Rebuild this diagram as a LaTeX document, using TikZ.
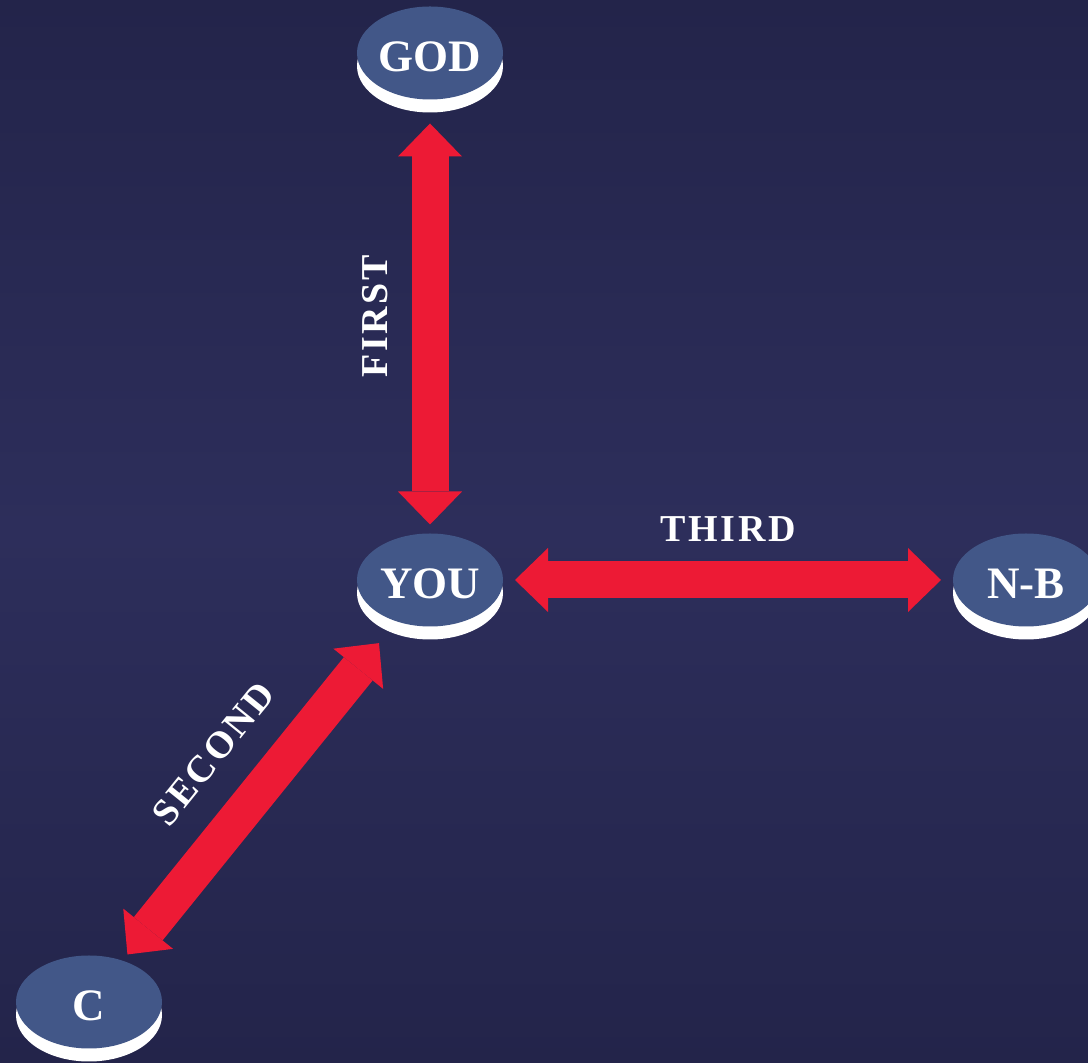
\documentclass[tikz,border=0pt]{standalone}
\usepackage{fontspec}
\setmainfont{Liberation Serif}
\newfontfamily\labelfont[LetterSpace=7]{Liberation Serif}
\usetikzlibrary{arrows.meta,positioning,shapes.geometric,shadows}

\definecolor{bgedge}{HTML}{23244A}
\definecolor{bgmid}{HTML}{2D2E5B}
\definecolor{discblue}{HTML}{425788}
\definecolor{linkred}{HTML}{ED1A35}

\begin{document}
\begin{tikzpicture}[x=1pt,y=1pt,
    >={Triangle[length=33pt,width=64pt,line width=0pt]},
    disc/.style={ellipse,on grid,fill=discblue,minimum width=146pt,minimum height=93pt,
      inner sep=0pt,outer sep=0pt,general shadow={fill=white,shadow yshift=-13pt},
      text height=38pt,text depth=0pt,
      text=white,font=\bfseries\fontsize{45}{45}\selectfont},
    link/.style={color=linkred,line width=37pt,<->},
    linklabel/.style={text=white,inner sep=0pt,font=\labelfont\bfseries\fontsize{38}{38}\selectfont}]
      \clip (0,0) rectangle (1088,1063);
      \shade[top color=bgedge,bottom color=bgedge,middle color=bgmid] (0,0) rectangle (1088,1063);

      \node[disc] (you) at (430,483) {YOU};
      \node[disc] (god) [above=527pt of you] {GOD};
      \node[disc] (nb) [right=596pt of you] {N-B};
      \node[disc] (c) [below left=422pt and 341pt of you] {C};

      \path[link]
      (you) edge [shorten <=9pt,shorten >=24pt] node [linklabel,sloped,above=24pt] {FIRST} (god)
      (you) edge [shorten <=12pt,shorten >=12pt] node [linklabel,above=20pt] {THIRD} (nb)
      (c) edge [shorten <=8pt,shorten >=28pt] node [linklabel,sloped,above=28pt] {SECOND} (you)
      ;
    \end{tikzpicture}
\end{document}
